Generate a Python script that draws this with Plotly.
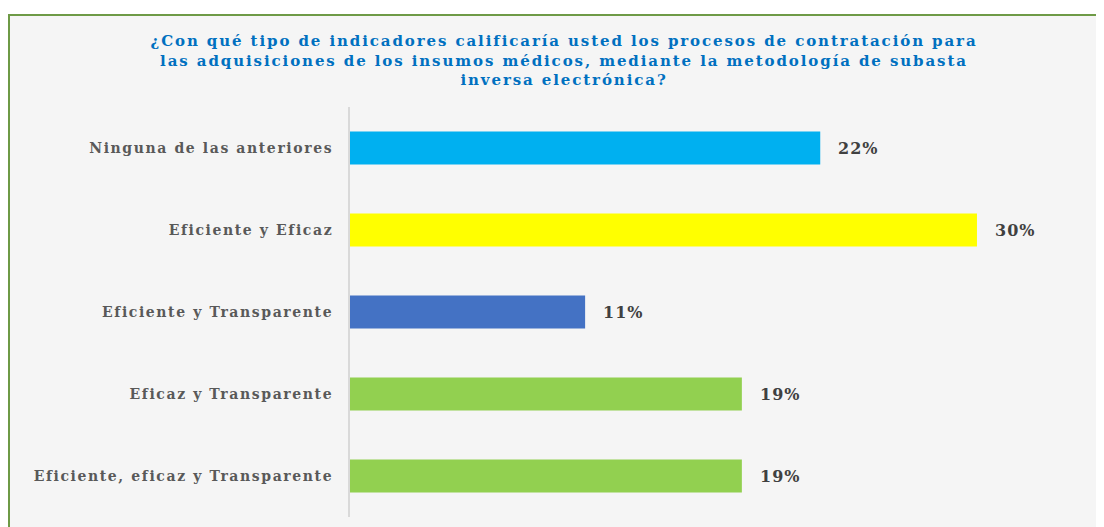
import plotly.graph_objects as go

# Categories (top to bottom) and shares of respondents
categorias = [
    "Ninguna de las anteriores",
    "Eficiente y Eficaz",
    "Eficiente y Transparente",
    "Eficaz y Transparente",
    "Eficiente, eficaz y Transparente",
]
valores = [0.222, 0.296, 0.111, 0.185, 0.185]
etiquetas = ["22%", "30%", "11%", "19%", "19%"]
colores = ["#00B0F0", "#FFFF00", "#4472C4", "#92D050", "#92D050"]

titulo_lineas = [
    "¿Con qué tipo de indicadores calificaría usted los procesos de contratación para",
    "las adquisiciones de los insumos médicos, mediante la metodología de subasta",
    "inversa electrónica?",
]


def espaciado(txt, px):
    # wide letter spacing like the original (stretched) text
    return '<span style="letter-spacing:%.1fpx">%s</span>' % (px, txt)


# page body adds an 8px margin, so figure is sized/offset to compensate
W, H = 1096, 519
OFF = 8
plot_l, plot_r, plot_t, plot_b = 350 - OFF, 1049 - OFF, 107 - OFF, 517 - OFF
pw, ph = plot_r - plot_l, plot_b - plot_t

fig = go.Figure()

fig.add_trace(go.Bar(
    x=valores,
    y=categorias,
    orientation="h",
    marker=dict(color=colores, line=dict(width=0)),
    width=0.4,
    hoverinfo="skip",
))

# Data labels to the right of each bar
for cat, val, lab in zip(categorias, valores, etiquetas):
    fig.add_annotation(
        x=val, y=cat, text="<b>" + espaciado(lab, 1) + "</b>",
        showarrow=False, xanchor="left", yanchor="middle", xshift=16,
        font=dict(family="DejaVu Serif", size=16, color="#404040"),
    )

# Chart-area box with green border (left/top visible)
fig.add_shape(
    type="rect", xref="paper", yref="paper",
    x0=(9 - OFF - plot_l) / pw, x1=(W + 10 - plot_l) / pw,
    y0=-(H + 10 - plot_b) / ph, y1=1 + (plot_t - (15 - OFF)) / ph,
    fillcolor="#F5F5F5", line=dict(color="#6E9A46", width=2),
    layer="below",
)

fig.update_layout(
    width=W, height=H,
    margin=dict(l=plot_l, r=W - plot_r, t=plot_t, b=H - plot_b),
    paper_bgcolor="white",
    plot_bgcolor="rgba(0,0,0,0)",
    showlegend=False,
    title=dict(
        text="<b>" + "<br>".join(espaciado(t, 1.9) for t in titulo_lineas) + "</b>",
        x=(564 - OFF) / W, xanchor="center",
        y=1 - (46 - OFF) / H, yanchor="top", yref="container",
        font=dict(family="DejaVu Serif", size=15, color="#0070C0"),
    ),
    xaxis=dict(range=[0, 0.33], visible=False, fixedrange=True),
    yaxis=dict(
        autorange="reversed",
        tickmode="array",
        tickvals=categorias,
        ticktext=[espaciado(c, 1.6) for c in categorias],
        showline=True, linecolor="#D9D9D9", linewidth=2,
        showgrid=False, zeroline=False,
        ticks="", ticklabelstandoff=12,
        tickfont=dict(family="DejaVu Serif", size=14, color="#595959", weight="bold"),
    ),
)

fig.write_html("out.html")
